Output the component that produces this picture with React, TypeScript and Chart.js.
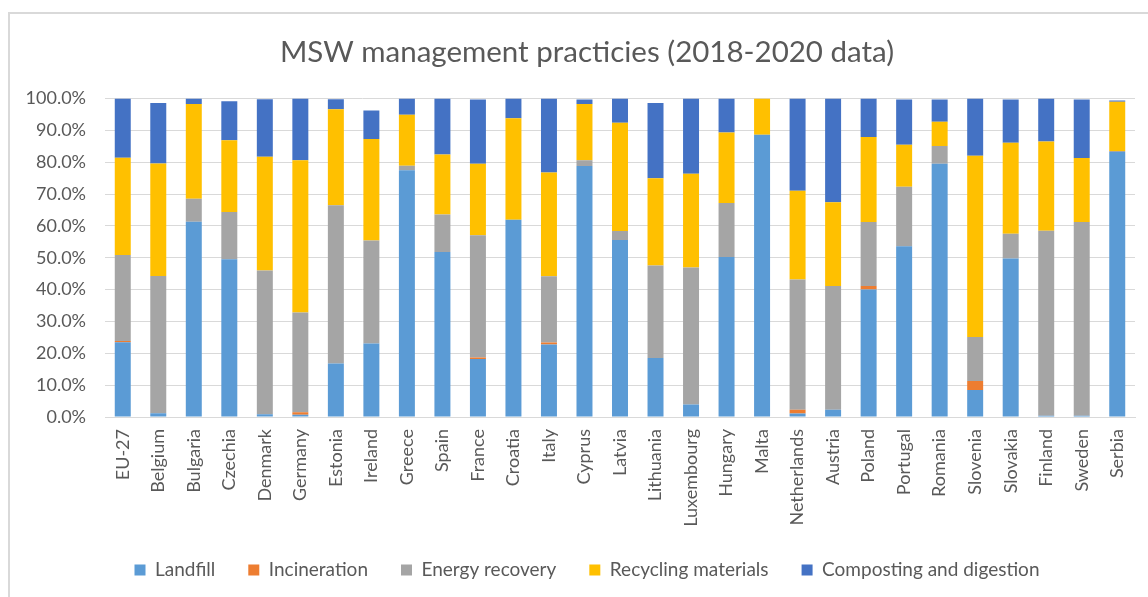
import React, { useEffect, useRef } from "react";
import { Chart, registerables } from "chart.js";

Chart.register(...registerables);

const title = "MSW management practicies (2018-2020 data)";

const categories = [
  "EU-27", "Belgium", "Bulgaria", "Czechia", "Denmark", "Germany", "Estonia", "Ireland",
  "Greece", "Spain", "France", "Croatia", "Italy", "Cyprus", "Latvia", "Lithuania",
  "Luxembourg", "Hungary", "Malta", "Netherlands", "Austria", "Poland", "Portugal",
  "Romania", "Slovenia", "Slovakia", "Finland", "Sweden", "Serbia",
];

const landfill = [
  23.5, 1.2, 61.3, 49.5, 0.9, 0.7, 16.8, 23.1, 77.5, 51.8, 18.2, 61.9, 22.8, 78.8, 55.6, 18.5,
  3.9, 50.2, 88.6, 1.1, 2.3, 40.0, 53.6, 79.5, 8.5, 49.8, 0.4, 0.4, 83.2,
];
const incineration = [
  0.4, 0, 0, 0, 0, 0.8, 0, 0, 0, 0, 0.5, 0, 0.6, 0, 0, 0,
  0, 0, 0, 1.2, 0, 1.1, 0, 0, 2.8, 0, 0, 0, 0,
];
const energyRecovery = [
  27.0, 43.1, 7.2, 14.9, 45.1, 31.3, 49.7, 32.3, 1.4, 11.8, 38.4, 0, 20.8, 1.8, 2.8, 29.1,
  43.0, 17.0, 0, 40.9, 38.8, 20.1, 18.7, 5.6, 13.8, 7.7, 58.1, 60.8, 0.3,
];
const recyclingMaterials = [
  30.5, 35.3, 29.8, 22.5, 35.7, 47.8, 30.1, 31.9, 16.0, 18.8, 22.4, 31.9, 32.6, 17.7, 34.0, 27.4,
  29.5, 22.1, 11.4, 27.8, 26.3, 26.7, 13.2, 7.6, 56.9, 28.6, 28.0, 20.1, 15.5,
];
const compostingDigestion = [
  18.6, 19.0, 1.7, 12.2, 18.1, 19.4, 3.2, 8.9, 5.1, 17.6, 20.2, 6.2, 23.2, 1.4, 7.6, 23.6,
  23.6, 10.7, 0, 29.0, 32.6, 12.1, 14.2, 7.0, 18.0, 13.6, 13.5, 18.4, 0.4,
];

const seriesNames = ["Landfill", "Incineration", "Energy recovery", "Recycling materials", "Composting and digestion"];
const seriesColors = ["#5B9BD5", "#ED7D31", "#A5A5A5", "#FFC000", "#4472C4"];

const yMin = 0;
const yMax = 100;
const yStep = 10;

const TEXT = "#595959";
const GRID = "#D9D9D9";
const FONT = "Lato, 'Open Sans', sans-serif";

export default function App() {
  const ref = useRef<HTMLCanvasElement | null>(null);

  useEffect(() => {
    const canvas = ref.current;
    if (!canvas) return;
    const values = [landfill, incineration, energyRecovery, recyclingMaterials, compostingDigestion];
    const chart = new Chart(canvas, {
      type: "bar",
      data: {
        labels: categories,
        datasets: values.map((d, i) => ({
          label: seriesNames[i],
          data: d,
          backgroundColor: seriesColors[i],
          borderWidth: 0,
          barPercentage: 0.45,
          categoryPercentage: 1,
        })),
      },
      options: {
        responsive: false,
        animation: false,
        layout: { padding: { left: 20, right: 6, top: 0, bottom: 7.5 } },
        plugins: {
          title: {
            display: true,
            text: title,
            color: TEXT,
            font: { family: FONT, size: 29.5, weight: "normal" },
            padding: { top: 35, bottom: 28.1 },
          },
          legend: {
            position: "bottom",
            labels: {
              color: TEXT,
              font: { family: FONT, size: 19 },
              boxWidth: 11,
              boxHeight: 11,
              padding: 33,
            },
          },
          tooltip: { enabled: false },
        },
        scales: {
          x: {
            stacked: true,
            grid: { display: false, drawTicks: false },
            border: { display: true, color: GRID, width: 1 },
            ticks: {
              color: TEXT,
              font: { family: FONT, size: 18 },
              minRotation: 90,
              maxRotation: 90,
              autoSkip: false,
              padding: 12,
            },
            afterFit: (s: any) => {
              s.height = 110.5;
            },
          },
          y: {
            stacked: true,
            min: yMin,
            max: yMax,
            grid: { color: GRID, lineWidth: 1, drawTicks: false },
            border: { display: false },
            ticks: {
              stepSize: yStep,
              color: TEXT,
              font: { family: FONT, size: 18 },
              padding: 19,
              callback: (v: any) => Number(v).toFixed(1) + "%",
            },
            afterFit: (s: any) => {
              s.width = 85;
            },
          },
          yRightSpacer: {
            type: "linear",
            position: "right",
            display: true,
            grid: { display: false, drawTicks: false },
            border: { display: false },
            ticks: { display: false },
            afterFit: (s: any) => {
              s.width = 19;
            },
          },
        },
      },
    });
    return () => chart.destroy();
  }, []);

  return (
    <div
      style={{
        position: "fixed",
        left: 0,
        top: 0,
        width: 1148,
        height: 597,
        overflow: "hidden",
        background: "#fff",
      }}
    >
      <div
        style={{
          position: "absolute",
          left: 8,
          top: 12,
          width: 1200,
          height: 700,
          border: "2px solid #D9D9D9",
          boxSizing: "border-box",
        }}
      />
      <canvas
        ref={ref}
        width={1160}
        height={597}
        style={{ position: "absolute", left: 0, top: 0, display: "block" }}
      />
    </div>
  );
}
